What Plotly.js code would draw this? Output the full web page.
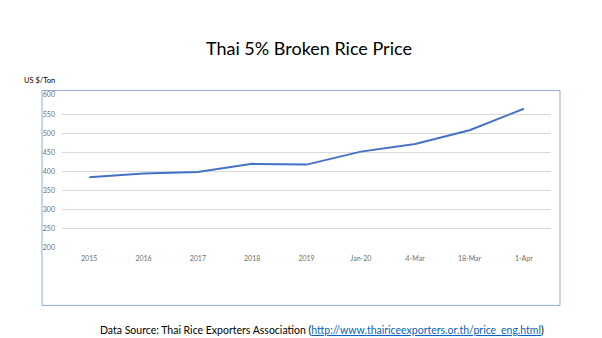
<!DOCTYPE html>
<html>
<head>
<meta charset="utf-8">
<script src="https://cdn.plot.ly/plotly-3.0.1.min.js"></script>
<style>
html,body{margin:0;padding:0;background:#fff;}
#chart{width:602px;height:338px;}
</style>
</head>
<body>
<div id="chart"></div>
<script>
const categories = ["2015", "2016", "2017", "2018", "2019", "Jan-20", "4-Mar", "18-Mar", "1-Apr"];
const prices = [385, 395, 399, 420, 418, 452, 472, 508, 564];
const yTicks = [200, 250, 300, 350, 400, 450, 500, 550, 600];

const trace = {
  type: 'scatter',
  mode: 'lines',
  x: categories,
  y: prices,
  line: {color: '#4472c4', width: 2},
  hoverinfo: 'x+y'
};

const layout = {
  width: 602,
  height: 338,
  margin: {l: 62, r: 51, t: 95, b: 90},
  paper_bgcolor: '#ffffff',
  plot_bgcolor: '#ffffff',
  showlegend: false,
  font: {family: 'Lato, "Open Sans", sans-serif', color: '#595959'},
  title: {
    text: 'Thai 5% Broken Rice Price',
    font: {family: 'Lato, "Open Sans", sans-serif', size: 18, color: '#000000'},
    x: 0.505, xanchor: 'center', xref: 'paper',
    y: 1 - 49 / 338, yanchor: 'middle', yref: 'container'
  },
  xaxis: {
    type: 'category',
    range: [-0.5, categories.length - 0.5],
    showgrid: false,
    zeroline: false,
    showline: false,
    ticks: '',
    tickfont: {size: 7, color: '#6f6f6f'},
    ticklabelstandoff: 5
  },
  yaxis: {
    range: [200, 600],
    tickvals: yTicks,
    ticktext: yTicks.map(String),
    showgrid: true,
    gridcolor: '#d9d9d9',
    gridwidth: 1,
    zeroline: false,
    showline: false,
    ticks: '',
    tickfont: {size: 7, color: '#6f6f6f'},
    ticklabelstandoff: 6
  },
  shapes: [{
    type: 'rect',
    xref: 'paper', yref: 'paper',
    x0: (42 - 62) / 489, x1: (560 - 62) / 489,
    y0: (247.7 - 305) / 152.7, y1: (247.7 - 90.5) / 152.7,
    line: {color: '#8faadc', width: 1},
    fillcolor: 'rgba(0,0,0,0)',
    layer: 'below'
  }],
  annotations: [
    {
      text: 'US $/Ton',
      xref: 'paper', yref: 'paper',
      x: (22 - 62) / 489, xanchor: 'left',
      y: (247.7 - 81) / 152.7, yanchor: 'middle',
      showarrow: false,
      font: {size: 7.5, color: '#000000'}
    },
    {
      text: 'Data Source: Thai Rice Exporters Association (<span style="color:#0563c1;text-decoration:underline">http://www.thairiceexporters.or.th/price_eng.html</span>)',
      xref: 'paper', yref: 'paper',
      x: (98 - 62) / 489, xanchor: 'left',
      y: (247.7 - 330) / 152.7, yanchor: 'middle',
      showarrow: false,
      font: {size: 10.5, color: '#000000'}
    }
  ]
};

Plotly.newPlot('chart', [trace], layout, {displayModeBar: false, staticPlot: true});
</script>
</body>
</html>
